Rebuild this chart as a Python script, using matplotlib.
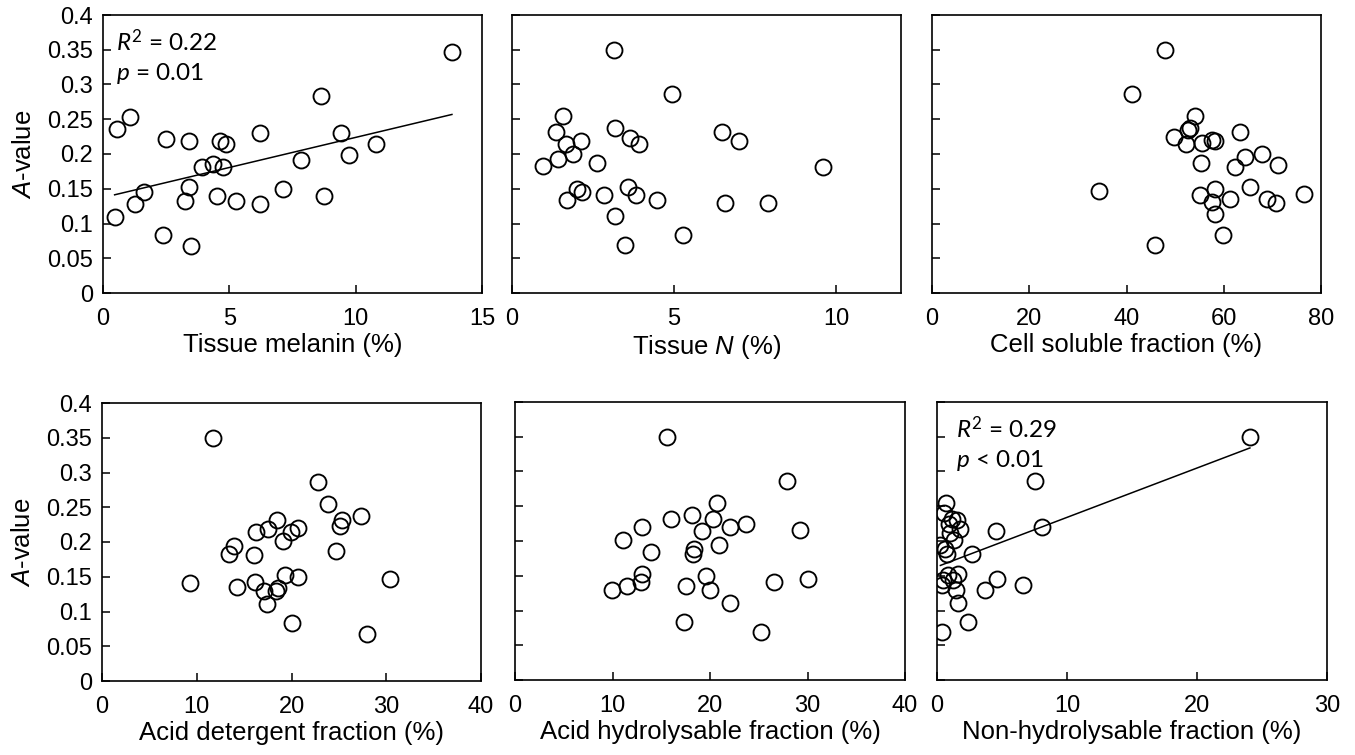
import numpy as np
import matplotlib
matplotlib.use("Agg")
import matplotlib.pyplot as plt
from matplotlib.ticker import FuncFormatter

plt.rcParams['font.family'] = ['Liberation Sans', 'DejaVu Sans']
plt.rcParams['mathtext.fontset'] = 'custom'
plt.rcParams['mathtext.rm'] = 'Lato'
plt.rcParams['mathtext.it'] = 'Lato:italic'
plt.rcParams['mathtext.sf'] = 'Liberation Sans:italic'

# A-value against each predictor
melanin_x = [13.81, 8.64, 1.06, 0.55, 2.48, 3.40, 4.62, 4.88, 6.20, 9.42, 10.79, 9.72, 7.84, 3.90,
             4.35, 4.75, 3.40, 7.11, 1.64, 4.51, 8.73, 3.23, 5.28, 6.21, 1.25, 0.46, 2.37, 3.50]
melanin_y = [0.347, 0.284, 0.253, 0.236, 0.221, 0.218, 0.218, 0.214, 0.230, 0.230, 0.214, 0.199, 0.192, 0.181,
             0.186, 0.182, 0.152, 0.149, 0.145, 0.140, 0.140, 0.133, 0.133, 0.128, 0.128, 0.110, 0.083, 0.067]

nitrogen_x = [3.14, 4.93, 1.57, 1.35, 3.18, 1.68, 2.12, 3.63, 3.92, 6.49, 7.00, 1.88, 1.43, 0.96,
              2.62, 9.58, 2.00, 2.17, 1.70, 2.85, 3.57, 3.83, 4.47, 6.57, 7.89, 3.19, 5.28, 3.49]
nitrogen_y = [0.350, 0.286, 0.254, 0.231, 0.237, 0.215, 0.219, 0.223, 0.215, 0.231, 0.219, 0.200, 0.193, 0.183,
              0.187, 0.181, 0.149, 0.146, 0.134, 0.141, 0.152, 0.141, 0.134, 0.129, 0.129, 0.111, 0.083, 0.069]

soluble_x = [48.0, 41.1, 54.0, 53.1, 52.6, 49.8, 52.3, 55.6, 57.6, 58.2, 63.3, 67.9, 64.3, 62.3,
             71.2, 55.4, 34.3, 58.1, 55.2, 57.6, 61.2, 65.5, 68.8, 70.8, 76.6, 58.3, 59.9, 45.9]
soluble_y = [0.350, 0.286, 0.255, 0.238, 0.234, 0.224, 0.215, 0.216, 0.220, 0.218, 0.231, 0.200, 0.195, 0.182,
             0.184, 0.187, 0.147, 0.150, 0.141, 0.131, 0.135, 0.152, 0.135, 0.130, 0.142, 0.113, 0.084, 0.069]

detergent_x = [11.75, 22.8, 23.9, 27.3, 25.3, 25.1, 18.5, 17.5, 16.25, 20.7, 19.9, 19.1, 13.9, 13.4,
               16.0, 24.7, 9.3, 14.2, 16.2, 17.1, 18.4, 18.6, 19.3, 20.7, 30.35, 17.4, 20.1, 27.96]
detergent_y = [0.349, 0.286, 0.254, 0.238, 0.232, 0.223, 0.231, 0.218, 0.214, 0.220, 0.215, 0.201, 0.194, 0.183,
               0.181, 0.187, 0.141, 0.135, 0.142, 0.129, 0.129, 0.134, 0.152, 0.149, 0.147, 0.111, 0.084, 0.068]

hydrolysable_x = [15.58, 27.9, 20.7, 18.2, 16.0, 20.3, 13.05, 19.2, 22.05, 23.7, 29.2, 11.05, 20.9, 13.9,
                  18.4, 18.3, 13.0, 12.95, 11.5, 9.9, 17.5, 19.55, 19.97, 26.6, 30.1, 22.05, 17.3, 25.2]
hydrolysable_y = [0.350, 0.286, 0.255, 0.238, 0.232, 0.232, 0.220, 0.215, 0.220, 0.224, 0.216, 0.201, 0.194, 0.184,
                  0.188, 0.182, 0.153, 0.141, 0.135, 0.130, 0.135, 0.150, 0.129, 0.141, 0.146, 0.111, 0.084, 0.069]

nonhydro_x = [24.07, 7.5, 8.1, 4.5, 2.7, 4.6, 3.66, 6.58, 2.4, 0.41, 1.61, 0.72, 0.51, 1.15,
              1.54, 0.9, 1.75, 1.0, 1.32, 0.26, 0.65, 0.8, 1.61, 0.85, 1.23, 0.46, 0.41, 1.49]
nonhydro_y = [0.350, 0.287, 0.220, 0.215, 0.181, 0.146, 0.129, 0.136, 0.084, 0.069, 0.111, 0.254, 0.240, 0.232,
              0.230, 0.225, 0.217, 0.212, 0.202, 0.194, 0.189, 0.182, 0.153, 0.151, 0.144, 0.144, 0.136, 0.130]

# linear fits shown in the figure: (slope, intercept)
melanin_fit = (0.00866, 0.1373)
nonhydro_fit = (0.0071, 0.163)

panels = [
    (melanin_x, melanin_y, "Tissue melanin (%)", 15, 5, melanin_fit, ("0.22", "= 0.01")),
    (nitrogen_x, nitrogen_y, r"Tissue $\mathsf{N}$ (%)", 12, 5, None, None),
    (soluble_x, soluble_y, "Cell soluble fraction (%)", 80, 20, None, None),
    (detergent_x, detergent_y, "Acid detergent fraction (%)", 40, 10, None, None),
    (hydrolysable_x, hydrolysable_y, "Acid hydrolysable fraction (%)", 40, 10, None, None),
    (nonhydro_x, nonhydro_y, "Non-hydrolysable fraction (%)", 30, 10, nonhydro_fit, ("0.29", "< 0.01")),
]

W, H = 1355, 755
fig = plt.figure(figsize=(W / 100, H / 100), dpi=100)

# axes boxes in pixels: left, right, top, bottom
boxes = [
    (103, 482, 15, 293), (512, 901, 15, 293), (932, 1321, 15, 293),
    (102, 481, 403, 681), (515, 905, 402, 680), (937, 1327, 402, 680),
]

for i, (xs, ys, xlabel, xmax, xstep, fit, stats) in enumerate(panels):
    l, r, t, b = boxes[i]
    ax = fig.add_axes([l / W, 1 - b / H, (r - l) / W, (b - t) / H])
    ax.plot(xs, ys, 'o', ms=11.5, mfc='none', mec='black', mew=1.35, ls='none')

    if fit is not None:
        slope, icpt = fit
        xx = np.array([min(xs), max(xs)])
        ax.plot(xx, slope * xx + icpt, color='black', lw=1.1)
        tx = 0.035 if i == 0 else 0.048
        ax.text(tx, 0.905, r"$\mathit{R}^{2}$ = " + stats[0],
                transform=ax.transAxes, fontsize=17.5, family='Lato', va='center', ha='left')
        ax.text(tx, 0.79, r"$\mathit{p}$ " + stats[1],
                transform=ax.transAxes, fontsize=17.5, family='Lato', va='center', ha='left')

    ax.set_xlim(0, xmax)
    ax.set_ylim(0, 0.4)
    ax.set_xticks(np.arange(0, xmax + 0.1, xstep))
    ax.set_yticks(np.arange(0, 0.401, 0.05))
    ax.xaxis.set_major_formatter(FuncFormatter(lambda v, p: f"{v:g}"))
    ax.yaxis.set_major_formatter(FuncFormatter(lambda v, p: f"{round(v, 2):g}"))
    ax.tick_params(direction='in', length=6, width=1.1, top=False, right=False, labelsize=17)
    ax.tick_params(axis='x', pad=11)
    ax.tick_params(axis='y', pad=7)
    for s in ax.spines.values():
        s.set_linewidth(1.2)

    ax.set_xlabel(xlabel, fontsize=18.5, labelpad=2)
    if i in (0, 3):
        ax.set_ylabel(r"$\mathsf{A}$-value", fontsize=18.5, labelpad=8)
    else:
        ax.tick_params(axis='y', labelleft=False)

fig.savefig("out.png", dpi=100)
